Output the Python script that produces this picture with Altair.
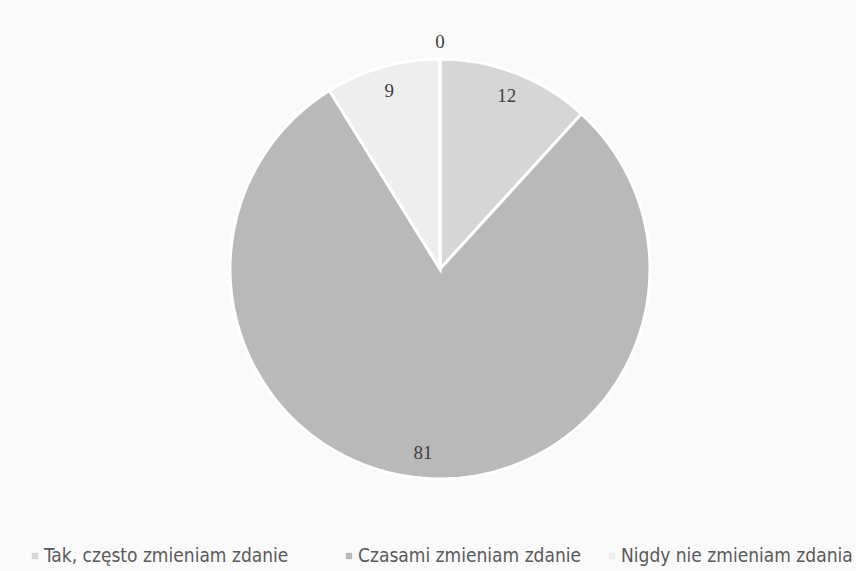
import altair as alt
import pandas as pd

# Survey answers and their counts
categories = ["Tak, często zmieniam zdanie", "Czasami zmieniam zdanie",
              "Nigdy nie zmieniam zdania", "Nie wiem"]
values = [12, 81, 9, 0]
colors = ["#d6d6d6", "#b9b9b9", "#eeeeee", "#e4e4e4"]

# Legend entries (the last category does not fit in the row)
legend_labels = categories[:3]

W, H = 856, 571
CX, CY, R = 440, 269, 210

pie_df = pd.DataFrame({
    "kategoria": categories,
    "liczba": values,
    "kolejnosc": list(range(len(categories))),
    # zero-valued slices get their label placed outside the pie
    "r_etykiety": [185 if v > 0 else 227 for v in values],
})

color_scale = alt.Scale(domain=categories, range=colors)

base = alt.Chart(pie_df).encode(
    theta=alt.Theta("liczba:Q", stack=True),
    order=alt.Order("kolejnosc:Q"),
)

slices = base.mark_arc(
    radius=R, stroke="white", strokeWidth=3
).encode(
    x=alt.value(CX), y=alt.value(CY),
    color=alt.Color("kategoria:N", scale=color_scale, legend=None),
)

labels = base.mark_text(
    font="Liberation Serif", fontSize=19, color="#404040"
).encode(
    x=alt.value(CX), y=alt.value(CY),
    radius=alt.Radius("r_etykiety:Q", scale=None),
    text=alt.Text("liczba:Q"),
)

# Hand-built legend row along the bottom
legend_x = [35, 349, 612]
legend_df = pd.DataFrame({
    "kategoria": legend_labels,
    "lx": legend_x,
    "tx": [x + 9 for x in legend_x],
})

swatches = alt.Chart(legend_df).mark_square(size=40, opacity=1).encode(
    x=alt.X("lx:Q", scale=None),
    y=alt.value(556),
    color=alt.Color("kategoria:N", scale=color_scale, legend=None),
)

legend_text = alt.Chart(legend_df).mark_text(
    align="left", baseline="middle",
    font="Liberation Sans Narrow, DejaVu Sans Condensed, Liberation Sans",
    fontSize=19, color="#595959",
).encode(
    x=alt.X("tx:Q", scale=None),
    y=alt.value(556),
    text="kategoria:N",
)

chart = alt.layer(slices, labels, swatches, legend_text).properties(
    width=W, height=H, padding=0,
    autosize=alt.AutoSizeParams(type="none"),
    background="#fafafa",
).configure_view(stroke=None)

chart.save("out.html", embed_options={"renderer": "svg", "actions": False})
